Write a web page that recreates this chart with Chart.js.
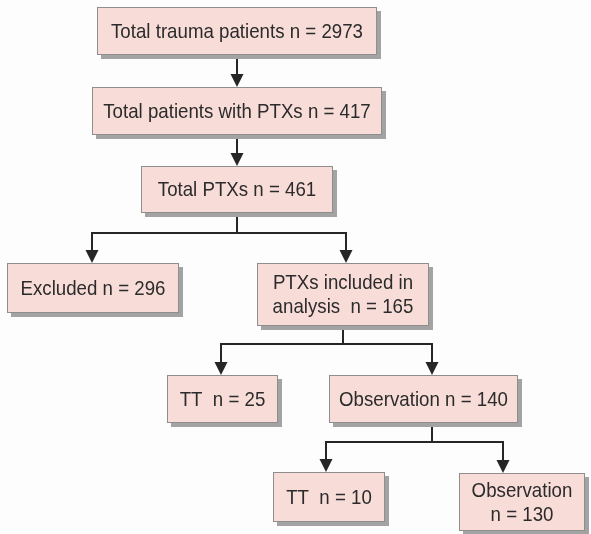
<!DOCTYPE html>
<html>
<head>
<meta charset="utf-8">
<script src="https://cdn.jsdelivr.net/npm/chart.js@4"></script>
<style>
  html, body { margin: 0; padding: 0; background: #fdfdfd; }
  #wrap { width: 591px; height: 534px; }
</style>
</head>
<body>
<div id="wrap"><canvas id="flow"></canvas></div>
<script>
// flow stages (data)
var stageLines = [
    ['Total trauma patients n = 2973'],
    ['Total patients with PTXs n = 417'],
    ['Total PTXs n = 461'],
    ['Excluded n = 296'],
    ['PTXs included in', 'analysis  n = 165'],
    ['TT  n = 25'],
    ['Observation n = 140'],
    ['TT  n = 10'],
    ['Observation', 'n = 130']
];
var stageCounts = [2973, 417, 461, 296, 165, 25, 140, 10, 130];
var stageParent = [null, 0, 1, 2, 2, 4, 4, 6, 6];

// layout in chart units (x 0..591, y 0..534, top down)
var boxLeft   = [97, 92, 141, 7, 257, 167, 329, 273, 459];
var boxTop    = [7, 87, 166, 263, 263, 375, 375, 472, 473];
var boxRight  = [377, 382, 333, 179, 429, 278, 518, 385, 585];
var boxBottom = [55, 135, 213, 313, 326, 423, 423, 522, 531];
var arrowX    = [null, 237, 237, 92, 346, 221, 432, 326, 503];
var stemX     = [237, 237, 237, null, 343, null, 432, null, null];
var branchY   = [null, null, 233, null, 344, null, 442, null, null];

var flowPlugin = {
    id: 'flowBoxes',
    afterDatasetsDraw: function(chart) {
        var ctx = chart.ctx;
        var sx = chart.scales.x, sy = chart.scales.y;
        var px = function(v) { return sx.getPixelForValue(v); };
        var py = function(v) { return sy.getPixelForValue(v); };

        ctx.save();
        // connectors
        ctx.strokeStyle = '#262626';
        ctx.fillStyle = '#262626';
        ctx.lineWidth = 2;
        for (var i = 0; i < stageParent.length; i++) {
            var p = stageParent[i];
            if (p === null) continue;
            var ax = px(arrowX[i]);
            var tipY = py(boxTop[i]);
            var startY;
            ctx.beginPath();
            if (branchY[p] !== null) {
                // stem + horizontal bar
                ctx.moveTo(px(stemX[p]), py(boxBottom[p]));
                ctx.lineTo(px(stemX[p]), py(branchY[p]));
                ctx.moveTo(px(stemX[p]), py(branchY[p]));
                ctx.lineTo(ax, py(branchY[p]));
                startY = py(branchY[p]) - 1;
            } else {
                startY = py(boxBottom[p]);
            }
            ctx.moveTo(ax, startY);
            ctx.lineTo(ax, tipY - 10);
            ctx.stroke();
            ctx.beginPath();
            ctx.moveTo(ax - 6.5, tipY - 13);
            ctx.lineTo(ax + 6.5, tipY - 13);
            ctx.lineTo(ax, tipY);
            ctx.closePath();
            ctx.fill();
        }

        // boxes
        for (var j = 0; j < stageLines.length; j++) {
            var l = px(boxLeft[j]), t = py(boxTop[j]);
            var w = px(boxRight[j]) - l, h = py(boxBottom[j]) - t;
            ctx.fillStyle = '#a3a3a3';
            ctx.fillRect(l + 4, t + 4, w, h);
            ctx.fillStyle = '#f8dcd8';
            ctx.fillRect(l, t, w, h);
            ctx.strokeStyle = '#8e8e8e';
            ctx.lineWidth = 1;
            ctx.strokeRect(l + 0.5, t + 0.5, w - 1, h - 1);

            var lines = stageLines[j];
            var lh = 24;
            var cx = l + w / 2;
            var cy = t + h / 2 - (lines.length - 1) * lh / 2;
            ctx.fillStyle = '#2b2b2b';
            ctx.font = '21px "Liberation Sans", Arial, sans-serif';
            ctx.textAlign = 'center';
            ctx.textBaseline = 'middle';
            for (var k = 0; k < lines.length; k++) {
                ctx.save();
                ctx.translate(cx, cy + k * lh + 1);
                ctx.scale(0.89, 1);
                ctx.fillText(lines[k], 0, 0);
                ctx.restore();
            }
        }
        ctx.restore();
    }
};

// one invisible point per stage at its box centre, so everything rides on the scales
var centres = stageCounts.map(function(n, i) {
    return { x: (boxLeft[i] + boxRight[i]) / 2, y: (boxTop[i] + boxBottom[i]) / 2, n: n };
});

var ctx = document.getElementById('flow');
var flowChart = new Chart(ctx, {
    type: 'scatter',
    data: {
        datasets: [{
            label: 'stages',
            data: centres,
            pointRadius: 0
        }]
    },
    options: {
        responsive: true,
        maintainAspectRatio: false,
        animation: false,
        layout: { padding: 0 },
        plugins: { legend: { display: false }, tooltip: { enabled: false } },
        scales: {
            x: { type: 'linear', min: 0, max: 591, display: false },
            y: { type: 'linear', min: 0, max: 534, reverse: true, display: false }
        }
    },
    plugins: [flowPlugin]
}); // flowChart
</script>
</body>
</html>
